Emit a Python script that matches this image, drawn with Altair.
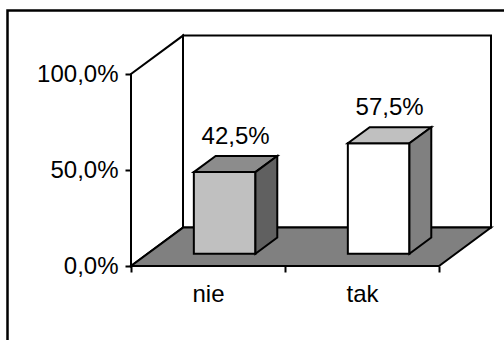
import altair as alt
import pandas as pd

# ---- data ----
categories = ["nie", "tak"]
values = [42.5, 57.5]
front_colors = ["#C0C0C0", "#FFFFFF"]
top_colors = ["#8C8C8C", "#C0C0C0"]
side_colors = ["#606060", "#808080"]
y_ticks = [0, 50, 100]

# ---- 3D projection style constants ----
DX = 52 / 154      # depth offset in category units
DY = 20.0          # depth offset in percent units
Y_MAX = 232 / 1.92 # top of plot area in percent units
BAR_W = 0.40       # bar width (category units)
D0, D1 = 0.32, 0.74  # bar front / back depth fractions
FONT = "Liberation Sans"
n = len(categories)

def poly(rows, pid, pts, fill):
    for k, (x, lo, hi) in enumerate(pts):
        rows.append({"pid": pid, "k": k, "x": x, "lo": lo, "hi": hi, "fill": fill})

walls, floor, bars = [], [], []
poly(walls, "left", [(0, 0, 100), (DX, DY, 100 + DY)], "#FFFFFF")
poly(walls, "back", [(DX, DY, 100 + DY), (n + DX, DY, 100 + DY)], "#FFFFFF")
poly(floor, "floor", [(0, 0, 0), (DX, 0, DY), (n, 0, DY), (n + DX, DY, DY)], "#808080")

lab = []
for i, (c, v) in enumerate(zip(categories, values)):
    x0 = i + 0.5 - BAR_W / 2 + DX * D0
    x1 = x0 + BAR_W
    y0 = DY * D0
    y1 = v + DY * D0
    dxb = DX * (D1 - D0)
    dyb = DY * (D1 - D0)
    poly(bars, f"{c}-front", [(x0, y0, y1), (x1, y0, y1)], front_colors[i])
    poly(bars, f"{c}-top", [(x0, y1, y1), (x0 + dxb, y1, y1 + dyb),
                           (x1, y1, y1 + dyb), (x1 + dxb, y1 + dyb, y1 + dyb)], top_colors[i])
    poly(bars, f"{c}-side", [(x1, y0, y1), (x1 + dxb, y0 + dyb, y1 + dyb)], side_colors[i])
    lab.append({"lx": i + 0.5 + DX * (D0 + D1) / 2, "ly": v + DY * D1,
                "t": f"{v:.1f}".replace(".", ",") + "%"})

walls_df = pd.DataFrame(walls)
floor_df = pd.DataFrame(floor)
bars_df = pd.DataFrame(bars)
lab_df = pd.DataFrame(lab)

x_tick_vals = sorted([float(i) for i in range(n + 1)] + [i + 0.5 for i in range(n)])
label_expr_x = " : ".join(f"datum.value == {i + 0.5} ? '{c}'" for i, c in enumerate(categories)) + " : ''"

xscale = alt.Scale(domain=[0, n + DX], nice=False, zero=False)
yscale = alt.Scale(domain=[0, Y_MAX], nice=False, zero=False)
xaxis = alt.Axis(values=x_tick_vals, domain=False, grid=False, tickSize=6, tickWidth=2,
                 tickColor="black", tickOpacity={"condition": {"test": "datum.value % 1 != 0", "value": 0}, "value": 1},
                 labelExpr=label_expr_x, labelFont=FONT, labelFontSize=24, labelColor="black",
                 labelBaseline="alphabetic", labelPadding=29.5, labelOverlap=False, labelFlush=False,
                 title=None)
yaxis = alt.Axis(values=y_ticks, domain=False, grid=False, tickSize=6, tickWidth=2, tickColor="black",
                 labelExpr="replace(format(datum.value, '.1f'), '.', ',') + '%'",
                 labelFont=FONT, labelFontSize=24, labelColor="black", labelPadding=7,
                 labelBaseline="middle", title=None)

def X(f):
    return alt.X(f, type="quantitative", scale=xscale, axis=xaxis)

def Y(f):
    return alt.Y(f, type="quantitative", scale=yscale, axis=yaxis, stack=None)

def area_layer(df):
    return alt.Chart(df).mark_area(stroke="black", strokeWidth=2, strokeJoin="miter",
                                   opacity=1, orient="vertical").encode(
        x=X("x"), y=Y("lo"), y2="hi", detail="pid:N",
        fill=alt.Fill("fill:N", scale=None))

frame = alt.Chart(pd.DataFrame({"a": [0]})).mark_rect(
    fill=None, stroke="black", strokeWidth=2.5).encode(
    x=alt.value(7.5 - 131), x2=alt.value(420), y=alt.value(10.5 - 34), y2=alt.value(400))

labels = alt.Chart(lab_df).mark_text(font=FONT, fontSize=24, color="black",
                                     baseline="alphabetic", align="center", dy=-12).encode(
    x=X("lx"), y=Y("ly"), text="t:N")

chart = alt.layer(frame, area_layer(walls_df), area_layer(floor_df), area_layer(bars_df), labels).properties(
    width=360, height=232,
    autosize=alt.AutoSizeParams(type="none"),
    padding={"left": 131, "top": 34, "right": 13, "bottom": 74},
    background="white",
).configure_view(stroke=None)

chart.save("out.html", embed_options={"renderer": "svg", "actions": False})
